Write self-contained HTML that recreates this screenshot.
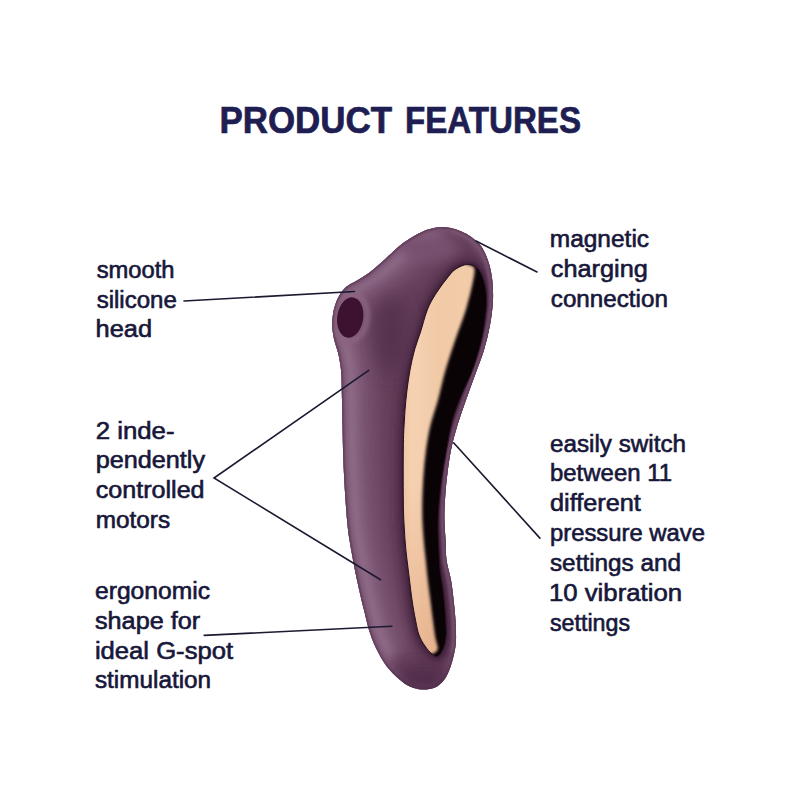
<!DOCTYPE html>
<html><head><meta charset="utf-8"><style>
html,body{margin:0;padding:0;background:#fff;}
svg{display:block;}
.t{font-family:"Liberation Sans",sans-serif;font-size:23px;fill:#17173a;stroke:#17173a;stroke-width:0.6px;}
.h{font-family:"Liberation Sans",sans-serif;font-size:36px;font-weight:bold;fill:#1e1e52;stroke:#1e1e52;stroke-width:0.7px;}
</style></head><body>
<svg width="800" height="800" viewBox="0 0 800 800">
<defs>
<clipPath id="bc"><path d="M440.5,227.0 C443.7,226.9 447.5,227.2 451.0,227.9 C454.5,228.6 458.2,229.9 461.5,231.4 C464.8,232.9 467.8,234.4 471.0,236.8 C474.2,239.2 478.2,242.1 481.0,246.0 C483.8,249.9 486.2,255.2 488.0,260.5 C489.8,265.8 491.2,271.4 492.0,278.0 C492.8,284.6 493.3,292.2 493.0,300.0 C492.7,307.8 491.5,316.7 490.0,325.0 C488.5,333.3 486.5,341.7 484.0,350.0 C481.5,358.3 478.0,366.7 475.0,375.0 C472.0,383.3 468.9,391.7 466.0,400.0 C463.1,408.3 460.0,416.7 457.5,425.0 C455.0,433.3 452.8,441.3 451.0,450.0 C449.2,458.7 448.0,468.7 447.0,477.0 C446.0,485.3 445.4,492.8 445.0,500.0 C444.6,507.2 444.3,513.3 444.4,520.0 C444.5,526.7 445.2,533.3 445.6,540.0 C446.0,546.7 445.6,553.3 446.5,560.0 C447.4,566.7 449.8,573.3 451.0,580.0 C452.2,586.7 452.9,593.3 453.6,600.0 C454.4,606.7 455.1,613.3 455.5,620.0 C455.9,626.7 456.2,634.7 456.0,640.0 C455.8,645.3 455.4,647.5 454.5,652.0 C453.6,656.5 452.2,662.3 450.5,667.0 C448.8,671.7 446.7,676.5 444.0,680.0 C441.3,683.5 438.2,686.2 434.5,687.8 C430.8,689.3 426.1,689.7 422.0,689.5 C417.9,689.3 413.8,688.2 410.0,686.5 C406.2,684.8 403.4,682.9 399.5,679.5 C395.6,676.1 390.3,671.2 386.4,666.0 C382.5,660.8 378.9,654.0 376.0,648.0 C373.1,642.0 370.8,635.7 369.0,630.0 C367.2,624.3 366.3,619.3 365.0,614.0 C363.7,608.7 362.3,603.7 361.0,598.0 C359.7,592.3 358.3,586.3 357.0,580.0 C355.7,573.7 354.2,566.7 353.0,560.0 C351.8,553.3 350.4,545.8 349.5,540.0 C348.6,534.2 348.2,531.7 347.5,525.0 C346.8,518.3 346.1,508.3 345.5,500.0 C344.9,491.7 344.4,483.3 344.0,475.0 C343.6,466.7 343.2,458.3 343.0,450.0 C342.8,441.7 342.7,433.3 342.5,425.0 C342.3,416.7 342.2,408.3 342.0,400.0 C341.8,391.7 341.7,381.0 341.4,375.0 C341.1,369.0 340.8,367.8 340.2,364.0 C339.7,360.2 339.0,356.3 338.0,352.5 C337.0,348.7 335.4,344.8 334.5,341.0 C333.6,337.2 332.9,333.3 332.5,330.0 C332.1,326.7 332.1,324.5 332.3,321.0 C332.6,317.5 333.0,313.0 334.0,309.0 C335.0,305.0 336.5,300.7 338.5,297.0 C340.5,293.3 342.9,289.8 346.0,287.0 C349.1,284.2 353.1,282.9 357.0,280.5 C360.9,278.1 365.2,275.8 369.5,272.5 C373.8,269.2 377.9,265.5 383.0,261.0 C388.1,256.5 395.1,249.5 400.0,245.5 C404.9,241.5 408.5,239.4 412.5,237.0 C416.5,234.6 420.8,232.4 424.0,231.0 C427.2,229.6 429.2,229.2 432.0,228.5 C434.8,227.8 437.3,227.1 440.5,227.0Z"/></clipPath>
<clipPath id="cc"><path d="M467.4,264.4 C471.1,264.2 474.9,266.0 477.5,268.4 C480.1,270.8 481.6,274.6 483.0,278.5 C484.4,282.4 485.5,286.8 486.0,292.0 C486.5,297.2 486.8,302.0 486.0,310.0 C485.2,318.0 483.8,330.0 481.5,340.0 C479.2,350.0 475.8,360.8 472.5,370.0 C469.2,379.2 464.8,386.7 461.5,395.0 C458.2,403.3 455.0,410.8 452.5,420.0 C450.0,429.2 448.3,440.0 446.5,450.0 C444.7,460.0 442.8,470.0 441.5,480.0 C440.2,490.0 439.1,501.7 438.5,510.0 C437.9,518.3 438.0,523.3 438.0,530.0 C438.0,536.7 438.4,543.3 438.8,550.0 C439.1,556.7 439.3,563.3 440.0,570.0 C440.7,576.7 442.2,583.3 443.0,590.0 C443.8,596.7 444.5,604.2 445.0,610.0 C445.5,615.8 445.8,620.5 446.0,625.0 C446.2,629.5 446.4,633.2 446.0,637.0 C445.6,640.8 444.8,644.8 443.5,648.0 C442.2,651.2 439.9,655.0 438.0,656.0 C436.1,657.0 434.2,655.7 432.0,654.0 C429.8,652.3 427.2,649.2 425.0,646.0 C422.8,642.8 420.6,639.3 419.0,635.0 C417.4,630.7 416.7,625.8 415.5,620.0 C414.3,614.2 413.0,606.7 412.0,600.0 C411.0,593.3 410.3,586.7 409.5,580.0 C408.7,573.3 407.8,566.7 407.0,560.0 C406.2,553.3 405.5,546.7 405.0,540.0 C404.5,533.3 404.1,526.7 403.8,520.0 C403.5,513.3 403.4,507.5 403.3,500.0 C403.2,492.5 403.2,483.3 403.2,475.0 C403.2,466.7 403.2,457.5 403.3,450.0 C403.4,442.5 403.5,436.7 403.8,430.0 C404.1,423.3 404.5,416.7 405.0,410.0 C405.5,403.3 406.2,396.7 407.0,390.0 C407.8,383.3 408.8,376.7 410.0,370.0 C411.2,363.3 412.8,356.3 414.5,350.0 C416.2,343.7 418.5,338.3 420.5,332.0 C422.5,325.7 424.6,317.3 426.5,312.0 C428.4,306.7 429.9,303.8 432.0,300.0 C434.1,296.2 436.6,292.5 439.0,289.0 C441.4,285.5 443.8,282.2 446.5,279.0 C449.2,275.8 451.5,271.9 455.0,269.5 C458.5,267.1 463.6,264.6 467.4,264.4Z"/></clipPath>
<filter id="b10" x="-50%" y="-50%" width="200%" height="200%"><feGaussianBlur stdDeviation="10"/></filter>
<filter id="b6" x="-50%" y="-50%" width="200%" height="200%"><feGaussianBlur stdDeviation="6"/></filter>
<filter id="b4" x="-50%" y="-50%" width="200%" height="200%"><feGaussianBlur stdDeviation="4"/></filter>
<filter id="b3" x="-50%" y="-50%" width="200%" height="200%"><feGaussianBlur stdDeviation="3"/></filter>
<filter id="b2" x="-50%" y="-50%" width="200%" height="200%"><feGaussianBlur stdDeviation="2"/></filter>
<filter id="b15" x="-50%" y="-50%" width="200%" height="200%"><feGaussianBlur stdDeviation="1.6"/></filter>
<filter id="b1" x="-50%" y="-50%" width="200%" height="200%"><feGaussianBlur stdDeviation="1.2"/></filter>
<linearGradient id="gold" x1="400" y1="0" x2="480" y2="0" gradientUnits="userSpaceOnUse">
<stop offset="0" stop-color="#eec3a0"/>
<stop offset="0.15" stop-color="#f5d2b2"/>
<stop offset="0.5" stop-color="#f1c9a6"/>
<stop offset="1" stop-color="#f3ccaa"/>
</linearGradient>
<linearGradient id="gshade" x1="0" y1="480" x2="0" y2="660" gradientUnits="userSpaceOnUse">
<stop offset="0" stop-color="#d9946a" stop-opacity="0"/>
<stop offset="1" stop-color="#d9946a" stop-opacity="0.45"/>
</linearGradient>
</defs>
<path d="M440.5,227.0 C443.7,226.9 447.5,227.2 451.0,227.9 C454.5,228.6 458.2,229.9 461.5,231.4 C464.8,232.9 467.8,234.4 471.0,236.8 C474.2,239.2 478.2,242.1 481.0,246.0 C483.8,249.9 486.2,255.2 488.0,260.5 C489.8,265.8 491.2,271.4 492.0,278.0 C492.8,284.6 493.3,292.2 493.0,300.0 C492.7,307.8 491.5,316.7 490.0,325.0 C488.5,333.3 486.5,341.7 484.0,350.0 C481.5,358.3 478.0,366.7 475.0,375.0 C472.0,383.3 468.9,391.7 466.0,400.0 C463.1,408.3 460.0,416.7 457.5,425.0 C455.0,433.3 452.8,441.3 451.0,450.0 C449.2,458.7 448.0,468.7 447.0,477.0 C446.0,485.3 445.4,492.8 445.0,500.0 C444.6,507.2 444.3,513.3 444.4,520.0 C444.5,526.7 445.2,533.3 445.6,540.0 C446.0,546.7 445.6,553.3 446.5,560.0 C447.4,566.7 449.8,573.3 451.0,580.0 C452.2,586.7 452.9,593.3 453.6,600.0 C454.4,606.7 455.1,613.3 455.5,620.0 C455.9,626.7 456.2,634.7 456.0,640.0 C455.8,645.3 455.4,647.5 454.5,652.0 C453.6,656.5 452.2,662.3 450.5,667.0 C448.8,671.7 446.7,676.5 444.0,680.0 C441.3,683.5 438.2,686.2 434.5,687.8 C430.8,689.3 426.1,689.7 422.0,689.5 C417.9,689.3 413.8,688.2 410.0,686.5 C406.2,684.8 403.4,682.9 399.5,679.5 C395.6,676.1 390.3,671.2 386.4,666.0 C382.5,660.8 378.9,654.0 376.0,648.0 C373.1,642.0 370.8,635.7 369.0,630.0 C367.2,624.3 366.3,619.3 365.0,614.0 C363.7,608.7 362.3,603.7 361.0,598.0 C359.7,592.3 358.3,586.3 357.0,580.0 C355.7,573.7 354.2,566.7 353.0,560.0 C351.8,553.3 350.4,545.8 349.5,540.0 C348.6,534.2 348.2,531.7 347.5,525.0 C346.8,518.3 346.1,508.3 345.5,500.0 C344.9,491.7 344.4,483.3 344.0,475.0 C343.6,466.7 343.2,458.3 343.0,450.0 C342.8,441.7 342.7,433.3 342.5,425.0 C342.3,416.7 342.2,408.3 342.0,400.0 C341.8,391.7 341.7,381.0 341.4,375.0 C341.1,369.0 340.8,367.8 340.2,364.0 C339.7,360.2 339.0,356.3 338.0,352.5 C337.0,348.7 335.4,344.8 334.5,341.0 C333.6,337.2 332.9,333.3 332.5,330.0 C332.1,326.7 332.1,324.5 332.3,321.0 C332.6,317.5 333.0,313.0 334.0,309.0 C335.0,305.0 336.5,300.7 338.5,297.0 C340.5,293.3 342.9,289.8 346.0,287.0 C349.1,284.2 353.1,282.9 357.0,280.5 C360.9,278.1 365.2,275.8 369.5,272.5 C373.8,269.2 377.9,265.5 383.0,261.0 C388.1,256.5 395.1,249.5 400.0,245.5 C404.9,241.5 408.5,239.4 412.5,237.0 C416.5,234.6 420.8,232.4 424.0,231.0 C427.2,229.6 429.2,229.2 432.0,228.5 C434.8,227.8 437.3,227.1 440.5,227.0Z" fill="#633d58"/>
<g clip-path="url(#bc)">
<path d="M432.0,228.5 C428.8,229.9 417.8,234.2 412.5,237.0 C407.2,239.8 404.9,241.5 400.0,245.5 C395.1,249.5 388.1,256.5 383.0,261.0 C377.9,265.5 373.8,269.2 369.5,272.5 C365.2,275.8 360.9,278.1 357.0,280.5 C353.1,282.9 349.1,284.2 346.0,287.0 C342.9,289.8 340.5,293.3 338.5,297.0 C336.5,300.7 335.0,305.0 334.0,309.0 C333.0,313.0 332.6,317.5 332.3,321.0 C332.1,324.5 332.1,326.7 332.5,330.0 C332.9,333.3 333.6,337.2 334.5,341.0 C335.4,344.8 337.0,348.7 338.0,352.5 C339.0,356.3 339.7,360.2 340.2,364.0 C340.8,367.8 341.1,369.0 341.4,375.0 C341.7,381.0 341.8,391.7 342.0,400.0 C342.2,408.3 342.3,416.7 342.5,425.0 C342.7,433.3 342.8,441.7 343.0,450.0 C343.2,458.3 343.6,466.7 344.0,475.0 C344.4,483.3 344.9,491.7 345.5,500.0 C346.1,508.3 346.8,518.3 347.5,525.0 C348.2,531.7 348.6,534.2 349.5,540.0 C350.4,545.8 351.8,553.3 353.0,560.0 C354.2,566.7 355.7,573.7 357.0,580.0 C358.3,586.3 359.7,592.3 361.0,598.0 C362.3,603.7 363.7,608.7 365.0,614.0 C366.3,619.3 367.2,624.3 369.0,630.0 C370.8,635.7 373.7,643.0 376.0,648.0 C378.3,653.0 381.8,658.0 383.0,660.0" fill="none" stroke="#7a5472" stroke-width="46" filter="url(#b10)" transform="translate(10,0)"/>
<path d="M432.0,228.5 C428.8,229.9 417.8,234.2 412.5,237.0 C407.2,239.8 404.9,241.5 400.0,245.5 C395.1,249.5 388.1,256.5 383.0,261.0 C377.9,265.5 373.8,269.2 369.5,272.5 C365.2,275.8 360.9,278.1 357.0,280.5 C353.1,282.9 349.1,284.2 346.0,287.0 C342.9,289.8 340.5,293.3 338.5,297.0 C336.5,300.7 335.0,305.0 334.0,309.0 C333.0,313.0 332.6,317.5 332.3,321.0 C332.1,324.5 332.1,326.7 332.5,330.0 C332.9,333.3 333.6,337.2 334.5,341.0 C335.4,344.8 337.0,348.7 338.0,352.5 C339.0,356.3 339.7,360.2 340.2,364.0 C340.8,367.8 341.1,369.0 341.4,375.0 C341.7,381.0 341.8,391.7 342.0,400.0 C342.2,408.3 342.3,416.7 342.5,425.0 C342.7,433.3 342.8,441.7 343.0,450.0 C343.2,458.3 343.6,466.7 344.0,475.0 C344.4,483.3 344.9,491.7 345.5,500.0 C346.1,508.3 346.8,518.3 347.5,525.0 C348.2,531.7 348.6,534.2 349.5,540.0 C350.4,545.8 351.8,553.3 353.0,560.0 C354.2,566.7 355.7,573.7 357.0,580.0 C358.3,586.3 359.7,592.3 361.0,598.0 C362.3,603.7 363.7,608.7 365.0,614.0 C366.3,619.3 367.2,624.3 369.0,630.0 C370.8,635.7 373.7,643.0 376.0,648.0 C378.3,653.0 381.8,658.0 383.0,660.0" fill="none" stroke="#93708c" stroke-width="20" filter="url(#b6)" transform="translate(4,0)"/>
<path d="M440.5,227.0 C443.7,226.9 447.5,227.2 451.0,227.9 C454.5,228.6 458.2,229.9 461.5,231.4 C464.8,232.9 467.8,234.4 471.0,236.8 C474.2,239.2 478.2,242.1 481.0,246.0 C483.8,249.9 486.2,255.2 488.0,260.5 C489.8,265.8 491.2,271.4 492.0,278.0 C492.8,284.6 493.3,292.2 493.0,300.0 C492.7,307.8 491.5,316.7 490.0,325.0 C488.5,333.3 486.5,341.7 484.0,350.0 C481.5,358.3 478.0,366.7 475.0,375.0 C472.0,383.3 468.9,391.7 466.0,400.0 C463.1,408.3 460.0,416.7 457.5,425.0 C455.0,433.3 452.8,441.3 451.0,450.0 C449.2,458.7 448.0,468.7 447.0,477.0 C446.0,485.3 445.4,492.8 445.0,500.0 C444.6,507.2 444.3,513.3 444.4,520.0 C444.5,526.7 445.2,533.3 445.6,540.0 C446.0,546.7 445.6,553.3 446.5,560.0 C447.4,566.7 449.8,573.3 451.0,580.0 C452.2,586.7 452.9,593.3 453.6,600.0 C454.4,606.7 455.1,613.3 455.5,620.0 C455.9,626.7 456.2,634.7 456.0,640.0 C455.8,645.3 455.4,647.5 454.5,652.0 C453.6,656.5 452.2,662.3 450.5,667.0 C448.8,671.7 446.7,676.5 444.0,680.0 C441.3,683.5 438.2,686.2 434.5,687.8 C430.8,689.3 426.1,689.7 422.0,689.5 C417.9,689.3 413.8,688.2 410.0,686.5 C406.2,684.8 403.4,682.9 399.5,679.5 C395.6,676.1 390.3,671.2 386.4,666.0 C382.5,660.8 378.9,654.0 376.0,648.0 C373.1,642.0 370.8,635.7 369.0,630.0 C367.2,624.3 366.3,619.3 365.0,614.0 C363.7,608.7 362.3,603.7 361.0,598.0 C359.7,592.3 358.3,586.3 357.0,580.0 C355.7,573.7 354.2,566.7 353.0,560.0 C351.8,553.3 350.4,545.8 349.5,540.0 C348.6,534.2 348.2,531.7 347.5,525.0 C346.8,518.3 346.1,508.3 345.5,500.0 C344.9,491.7 344.4,483.3 344.0,475.0 C343.6,466.7 343.2,458.3 343.0,450.0 C342.8,441.7 342.7,433.3 342.5,425.0 C342.3,416.7 342.2,408.3 342.0,400.0 C341.8,391.7 341.7,381.0 341.4,375.0 C341.1,369.0 340.8,367.8 340.2,364.0 C339.7,360.2 339.0,356.3 338.0,352.5 C337.0,348.7 335.4,344.8 334.5,341.0 C333.6,337.2 332.9,333.3 332.5,330.0 C332.1,326.7 332.1,324.5 332.3,321.0 C332.6,317.5 333.0,313.0 334.0,309.0 C335.0,305.0 336.5,300.7 338.5,297.0 C340.5,293.3 342.9,289.8 346.0,287.0 C349.1,284.2 353.1,282.9 357.0,280.5 C360.9,278.1 365.2,275.8 369.5,272.5 C373.8,269.2 377.9,265.5 383.0,261.0 C388.1,256.5 395.1,249.5 400.0,245.5 C404.9,241.5 408.5,239.4 412.5,237.0 C416.5,234.6 420.8,232.4 424.0,231.0 C427.2,229.6 429.2,229.2 432.0,228.5 C434.8,227.8 437.3,227.1 440.5,227.0Z" fill="none" stroke="#77526f" stroke-width="10" filter="url(#b3)"/>
<path d="M467.4,264.4 C471.1,264.2 474.9,266.0 477.5,268.4 C480.1,270.8 481.6,274.6 483.0,278.5 C484.4,282.4 485.5,286.8 486.0,292.0 C486.5,297.2 486.8,302.0 486.0,310.0 C485.2,318.0 483.8,330.0 481.5,340.0 C479.2,350.0 475.8,360.8 472.5,370.0 C469.2,379.2 464.8,386.7 461.5,395.0 C458.2,403.3 455.0,410.8 452.5,420.0 C450.0,429.2 448.3,440.0 446.5,450.0 C444.7,460.0 442.8,470.0 441.5,480.0 C440.2,490.0 439.1,501.7 438.5,510.0 C437.9,518.3 438.0,523.3 438.0,530.0 C438.0,536.7 438.4,543.3 438.8,550.0 C439.1,556.7 439.3,563.3 440.0,570.0 C440.7,576.7 442.2,583.3 443.0,590.0 C443.8,596.7 444.5,604.2 445.0,610.0 C445.5,615.8 445.8,620.5 446.0,625.0 C446.2,629.5 446.4,633.2 446.0,637.0 C445.6,640.8 444.8,644.8 443.5,648.0 C442.2,651.2 439.9,655.0 438.0,656.0 C436.1,657.0 434.2,655.7 432.0,654.0 C429.8,652.3 427.2,649.2 425.0,646.0 C422.8,642.8 420.6,639.3 419.0,635.0 C417.4,630.7 416.7,625.8 415.5,620.0 C414.3,614.2 413.0,606.7 412.0,600.0 C411.0,593.3 410.3,586.7 409.5,580.0 C408.7,573.3 407.8,566.7 407.0,560.0 C406.2,553.3 405.5,546.7 405.0,540.0 C404.5,533.3 404.1,526.7 403.8,520.0 C403.5,513.3 403.4,507.5 403.3,500.0 C403.2,492.5 403.2,483.3 403.2,475.0 C403.2,466.7 403.2,457.5 403.3,450.0 C403.4,442.5 403.5,436.7 403.8,430.0 C404.1,423.3 404.5,416.7 405.0,410.0 C405.5,403.3 406.2,396.7 407.0,390.0 C407.8,383.3 408.8,376.7 410.0,370.0 C411.2,363.3 412.8,356.3 414.5,350.0 C416.2,343.7 418.5,338.3 420.5,332.0 C422.5,325.7 424.6,317.3 426.5,312.0 C428.4,306.7 429.9,303.8 432.0,300.0 C434.1,296.2 436.6,292.5 439.0,289.0 C441.4,285.5 443.8,282.2 446.5,279.0 C449.2,275.8 451.5,271.9 455.0,269.5 C458.5,267.1 463.6,264.6 467.4,264.4Z" fill="none" stroke="#482643" stroke-width="12" filter="url(#b4)"/>
<ellipse cx="392" cy="335" rx="16" ry="40" fill="#54304d" filter="url(#b10)"/>
<ellipse cx="425" cy="680" rx="30" ry="14" fill="#4f2a49" filter="url(#b10)"/>
<ellipse cx="428" cy="248" rx="30" ry="12" fill="#77506f" filter="url(#b6)"/>
<ellipse cx="350" cy="317.5" rx="17" ry="24.5" fill="none" stroke="#8a6480" stroke-width="5" filter="url(#b2)" transform="rotate(8 350 317.5)"/>
<path d="M467.4,264.4 C471.1,264.2 474.9,266.0 477.5,268.4 C480.1,270.8 481.6,274.6 483.0,278.5 C484.4,282.4 485.5,286.8 486.0,292.0 C486.5,297.2 486.8,302.0 486.0,310.0 C485.2,318.0 483.8,330.0 481.5,340.0 C479.2,350.0 475.8,360.8 472.5,370.0 C469.2,379.2 464.8,386.7 461.5,395.0 C458.2,403.3 455.0,410.8 452.5,420.0 C450.0,429.2 448.3,440.0 446.5,450.0 C444.7,460.0 442.8,470.0 441.5,480.0 C440.2,490.0 439.1,501.7 438.5,510.0 C437.9,518.3 438.0,523.3 438.0,530.0 C438.0,536.7 438.4,543.3 438.8,550.0 C439.1,556.7 439.3,563.3 440.0,570.0 C440.7,576.7 442.2,583.3 443.0,590.0 C443.8,596.7 444.5,604.2 445.0,610.0 C445.5,615.8 445.8,620.5 446.0,625.0 C446.2,629.5 446.4,633.2 446.0,637.0 C445.6,640.8 444.8,644.8 443.5,648.0 C442.2,651.2 439.9,655.0 438.0,656.0 C436.1,657.0 434.2,655.7 432.0,654.0 C429.8,652.3 427.2,649.2 425.0,646.0 C422.8,642.8 420.6,639.3 419.0,635.0 C417.4,630.7 416.7,625.8 415.5,620.0 C414.3,614.2 413.0,606.7 412.0,600.0 C411.0,593.3 410.3,586.7 409.5,580.0 C408.7,573.3 407.8,566.7 407.0,560.0 C406.2,553.3 405.5,546.7 405.0,540.0 C404.5,533.3 404.1,526.7 403.8,520.0 C403.5,513.3 403.4,507.5 403.3,500.0 C403.2,492.5 403.2,483.3 403.2,475.0 C403.2,466.7 403.2,457.5 403.3,450.0 C403.4,442.5 403.5,436.7 403.8,430.0 C404.1,423.3 404.5,416.7 405.0,410.0 C405.5,403.3 406.2,396.7 407.0,390.0 C407.8,383.3 408.8,376.7 410.0,370.0 C411.2,363.3 412.8,356.3 414.5,350.0 C416.2,343.7 418.5,338.3 420.5,332.0 C422.5,325.7 424.6,317.3 426.5,312.0 C428.4,306.7 429.9,303.8 432.0,300.0 C434.1,296.2 436.6,292.5 439.0,289.0 C441.4,285.5 443.8,282.2 446.5,279.0 C449.2,275.8 451.5,271.9 455.0,269.5 C458.5,267.1 463.6,264.6 467.4,264.4Z" fill="none" stroke="#3e2038" stroke-width="4" filter="url(#b1)"/>
<path d="M451.0,227.9 C452.8,228.5 458.2,229.9 461.5,231.4 C464.8,232.9 467.8,234.4 471.0,236.8 C474.2,239.2 478.2,242.1 481.0,246.0 C483.8,249.9 486.2,255.2 488.0,260.5 C489.8,265.8 491.2,271.4 492.0,278.0 C492.8,284.6 493.3,292.2 493.0,300.0 C492.7,307.8 491.5,316.7 490.0,325.0 C488.5,333.3 486.5,341.7 484.0,350.0 C481.5,358.3 478.0,366.7 475.0,375.0 C472.0,383.3 468.9,391.7 466.0,400.0 C463.1,408.3 460.0,416.7 457.5,425.0 C455.0,433.3 452.8,441.3 451.0,450.0 C449.2,458.7 448.0,468.7 447.0,477.0 C446.0,485.3 445.4,492.8 445.0,500.0 C444.6,507.2 444.3,513.3 444.4,520.0 C444.5,526.7 445.2,533.3 445.6,540.0 C446.0,546.7 445.6,553.3 446.5,560.0 C447.4,566.7 449.8,573.3 451.0,580.0 C452.2,586.7 452.9,593.3 453.6,600.0 C454.4,606.7 455.1,613.3 455.5,620.0 C455.9,626.7 456.2,634.7 456.0,640.0 C455.8,645.3 454.8,650.0 454.5,652.0" fill="none" stroke="#7a5673" stroke-width="7" filter="url(#b15)"/>
<path d="M440.5,227.0 C443.7,226.9 447.5,227.2 451.0,227.9 C454.5,228.6 458.2,229.9 461.5,231.4 C464.8,232.9 467.8,234.4 471.0,236.8 C474.2,239.2 478.2,242.1 481.0,246.0 C483.8,249.9 486.2,255.2 488.0,260.5 C489.8,265.8 491.2,271.4 492.0,278.0 C492.8,284.6 493.3,292.2 493.0,300.0 C492.7,307.8 491.5,316.7 490.0,325.0 C488.5,333.3 486.5,341.7 484.0,350.0 C481.5,358.3 478.0,366.7 475.0,375.0 C472.0,383.3 468.9,391.7 466.0,400.0 C463.1,408.3 460.0,416.7 457.5,425.0 C455.0,433.3 452.8,441.3 451.0,450.0 C449.2,458.7 448.0,468.7 447.0,477.0 C446.0,485.3 445.4,492.8 445.0,500.0 C444.6,507.2 444.3,513.3 444.4,520.0 C444.5,526.7 445.2,533.3 445.6,540.0 C446.0,546.7 445.6,553.3 446.5,560.0 C447.4,566.7 449.8,573.3 451.0,580.0 C452.2,586.7 452.9,593.3 453.6,600.0 C454.4,606.7 455.1,613.3 455.5,620.0 C455.9,626.7 456.2,634.7 456.0,640.0 C455.8,645.3 455.4,647.5 454.5,652.0 C453.6,656.5 452.2,662.3 450.5,667.0 C448.8,671.7 446.7,676.5 444.0,680.0 C441.3,683.5 438.2,686.2 434.5,687.8 C430.8,689.3 426.1,689.7 422.0,689.5 C417.9,689.3 413.8,688.2 410.0,686.5 C406.2,684.8 403.4,682.9 399.5,679.5 C395.6,676.1 390.3,671.2 386.4,666.0 C382.5,660.8 378.9,654.0 376.0,648.0 C373.1,642.0 370.8,635.7 369.0,630.0 C367.2,624.3 366.3,619.3 365.0,614.0 C363.7,608.7 362.3,603.7 361.0,598.0 C359.7,592.3 358.3,586.3 357.0,580.0 C355.7,573.7 354.2,566.7 353.0,560.0 C351.8,553.3 350.4,545.8 349.5,540.0 C348.6,534.2 348.2,531.7 347.5,525.0 C346.8,518.3 346.1,508.3 345.5,500.0 C344.9,491.7 344.4,483.3 344.0,475.0 C343.6,466.7 343.2,458.3 343.0,450.0 C342.8,441.7 342.7,433.3 342.5,425.0 C342.3,416.7 342.2,408.3 342.0,400.0 C341.8,391.7 341.7,381.0 341.4,375.0 C341.1,369.0 340.8,367.8 340.2,364.0 C339.7,360.2 339.0,356.3 338.0,352.5 C337.0,348.7 335.4,344.8 334.5,341.0 C333.6,337.2 332.9,333.3 332.5,330.0 C332.1,326.7 332.1,324.5 332.3,321.0 C332.6,317.5 333.0,313.0 334.0,309.0 C335.0,305.0 336.5,300.7 338.5,297.0 C340.5,293.3 342.9,289.8 346.0,287.0 C349.1,284.2 353.1,282.9 357.0,280.5 C360.9,278.1 365.2,275.8 369.5,272.5 C373.8,269.2 377.9,265.5 383.0,261.0 C388.1,256.5 395.1,249.5 400.0,245.5 C404.9,241.5 408.5,239.4 412.5,237.0 C416.5,234.6 420.8,232.4 424.0,231.0 C427.2,229.6 429.2,229.2 432.0,228.5 C434.8,227.8 437.3,227.1 440.5,227.0Z" fill="none" stroke="#4a2845" stroke-width="1.6" filter="url(#b1)"/>
</g>
<ellipse cx="350.2" cy="317.5" rx="13" ry="20.3" fill="#3d1231" transform="rotate(8 350.2 317.5)"/>
<path d="M467.4,264.4 C471.1,264.2 474.9,266.0 477.5,268.4 C480.1,270.8 481.6,274.6 483.0,278.5 C484.4,282.4 485.5,286.8 486.0,292.0 C486.5,297.2 486.8,302.0 486.0,310.0 C485.2,318.0 483.8,330.0 481.5,340.0 C479.2,350.0 475.8,360.8 472.5,370.0 C469.2,379.2 464.8,386.7 461.5,395.0 C458.2,403.3 455.0,410.8 452.5,420.0 C450.0,429.2 448.3,440.0 446.5,450.0 C444.7,460.0 442.8,470.0 441.5,480.0 C440.2,490.0 439.1,501.7 438.5,510.0 C437.9,518.3 438.0,523.3 438.0,530.0 C438.0,536.7 438.4,543.3 438.8,550.0 C439.1,556.7 439.3,563.3 440.0,570.0 C440.7,576.7 442.2,583.3 443.0,590.0 C443.8,596.7 444.5,604.2 445.0,610.0 C445.5,615.8 445.8,620.5 446.0,625.0 C446.2,629.5 446.4,633.2 446.0,637.0 C445.6,640.8 444.8,644.8 443.5,648.0 C442.2,651.2 439.9,655.0 438.0,656.0 C436.1,657.0 434.2,655.7 432.0,654.0 C429.8,652.3 427.2,649.2 425.0,646.0 C422.8,642.8 420.6,639.3 419.0,635.0 C417.4,630.7 416.7,625.8 415.5,620.0 C414.3,614.2 413.0,606.7 412.0,600.0 C411.0,593.3 410.3,586.7 409.5,580.0 C408.7,573.3 407.8,566.7 407.0,560.0 C406.2,553.3 405.5,546.7 405.0,540.0 C404.5,533.3 404.1,526.7 403.8,520.0 C403.5,513.3 403.4,507.5 403.3,500.0 C403.2,492.5 403.2,483.3 403.2,475.0 C403.2,466.7 403.2,457.5 403.3,450.0 C403.4,442.5 403.5,436.7 403.8,430.0 C404.1,423.3 404.5,416.7 405.0,410.0 C405.5,403.3 406.2,396.7 407.0,390.0 C407.8,383.3 408.8,376.7 410.0,370.0 C411.2,363.3 412.8,356.3 414.5,350.0 C416.2,343.7 418.5,338.3 420.5,332.0 C422.5,325.7 424.6,317.3 426.5,312.0 C428.4,306.7 429.9,303.8 432.0,300.0 C434.1,296.2 436.6,292.5 439.0,289.0 C441.4,285.5 443.8,282.2 446.5,279.0 C449.2,275.8 451.5,271.9 455.0,269.5 C458.5,267.1 463.6,264.6 467.4,264.4Z" fill="#0a0306"/>
<g clip-path="url(#cc)">
<path d="M467.4,264.4 C469.4,265.3 473.0,264.9 474.0,267.5 C475.0,270.1 474.6,272.9 473.2,280.0 C471.9,287.1 468.8,300.0 465.8,310.0 C462.8,320.0 458.6,330.0 455.2,340.0 C451.9,350.0 448.4,360.0 445.5,370.0 C442.6,380.0 440.5,390.8 438.0,400.0 C435.5,409.2 432.5,416.7 430.5,425.0 C428.5,433.3 427.2,441.7 426.0,450.0 C424.8,458.3 424.1,466.7 423.5,475.0 C422.9,483.3 422.5,492.5 422.3,500.0 C422.1,507.5 422.1,513.3 422.3,520.0 C422.5,526.7 423.0,533.3 423.5,540.0 C424.0,546.7 424.8,553.3 425.5,560.0 C426.2,566.7 426.8,573.3 427.5,580.0 C428.2,586.7 429.2,593.3 430.0,600.0 C430.8,606.7 431.7,613.7 432.5,620.0 C433.3,626.3 434.2,633.0 435.0,638.0 C435.8,643.0 438.3,647.3 437.0,650.0 C435.7,652.7 429.8,654.7 427.0,654.0 C424.2,653.3 422.2,649.2 420.0,646.0 C417.8,642.8 415.6,639.3 414.0,635.0 C412.4,630.7 411.7,625.8 410.5,620.0 C409.3,614.2 408.0,606.7 407.0,600.0 C406.0,593.3 405.3,586.7 404.5,580.0 C403.7,573.3 402.8,566.7 402.0,560.0 C401.2,553.3 400.5,546.7 400.0,540.0 C399.5,533.3 399.1,526.7 398.8,520.0 C398.5,513.3 398.4,507.5 398.3,500.0 C398.2,492.5 398.2,483.3 398.2,475.0 C398.2,466.7 398.2,457.5 398.3,450.0 C398.4,442.5 398.5,436.7 398.8,430.0 C399.1,423.3 399.5,416.7 400.0,410.0 C400.5,403.3 401.2,396.7 402.0,390.0 C402.8,383.3 403.8,376.7 405.0,370.0 C406.2,363.3 407.8,356.3 409.5,350.0 C411.2,343.7 413.5,338.3 415.5,332.0 C417.5,325.7 419.6,317.3 421.5,312.0 C423.4,306.7 424.9,303.8 427.0,300.0 C429.1,296.2 431.6,292.5 434.0,289.0 C436.4,285.5 436.8,283.5 441.5,279.0 C446.2,274.5 457.7,264.4 462.0,262.0 C466.3,259.6 465.4,263.5 467.4,264.4Z" fill="url(#gold)" filter="url(#b15)"/>
<path d="M467.4,264.4 C469.4,265.3 473.0,264.9 474.0,267.5 C475.0,270.1 474.6,272.9 473.2,280.0 C471.9,287.1 468.8,300.0 465.8,310.0 C462.8,320.0 458.6,330.0 455.2,340.0 C451.9,350.0 448.4,360.0 445.5,370.0 C442.6,380.0 440.5,390.8 438.0,400.0 C435.5,409.2 432.5,416.7 430.5,425.0 C428.5,433.3 427.2,441.7 426.0,450.0 C424.8,458.3 424.1,466.7 423.5,475.0 C422.9,483.3 422.5,492.5 422.3,500.0 C422.1,507.5 422.1,513.3 422.3,520.0 C422.5,526.7 423.0,533.3 423.5,540.0 C424.0,546.7 424.8,553.3 425.5,560.0 C426.2,566.7 426.8,573.3 427.5,580.0 C428.2,586.7 429.2,593.3 430.0,600.0 C430.8,606.7 431.7,613.7 432.5,620.0 C433.3,626.3 434.2,633.0 435.0,638.0 C435.8,643.0 438.3,647.3 437.0,650.0 C435.7,652.7 429.8,654.7 427.0,654.0 C424.2,653.3 422.2,649.2 420.0,646.0 C417.8,642.8 415.6,639.3 414.0,635.0 C412.4,630.7 411.7,625.8 410.5,620.0 C409.3,614.2 408.0,606.7 407.0,600.0 C406.0,593.3 405.3,586.7 404.5,580.0 C403.7,573.3 402.8,566.7 402.0,560.0 C401.2,553.3 400.5,546.7 400.0,540.0 C399.5,533.3 399.1,526.7 398.8,520.0 C398.5,513.3 398.4,507.5 398.3,500.0 C398.2,492.5 398.2,483.3 398.2,475.0 C398.2,466.7 398.2,457.5 398.3,450.0 C398.4,442.5 398.5,436.7 398.8,430.0 C399.1,423.3 399.5,416.7 400.0,410.0 C400.5,403.3 401.2,396.7 402.0,390.0 C402.8,383.3 403.8,376.7 405.0,370.0 C406.2,363.3 407.8,356.3 409.5,350.0 C411.2,343.7 413.5,338.3 415.5,332.0 C417.5,325.7 419.6,317.3 421.5,312.0 C423.4,306.7 424.9,303.8 427.0,300.0 C429.1,296.2 431.6,292.5 434.0,289.0 C436.4,285.5 436.8,283.5 441.5,279.0 C446.2,274.5 457.7,264.4 462.0,262.0 C466.3,259.6 465.4,263.5 467.4,264.4Z" fill="url(#gshade)" filter="url(#b15)"/>
</g>
<path d="M467.4,264.4 C471.1,264.2 474.9,266.0 477.5,268.4 C480.1,270.8 481.6,274.6 483.0,278.5 C484.4,282.4 485.5,286.8 486.0,292.0 C486.5,297.2 486.8,302.0 486.0,310.0 C485.2,318.0 483.8,330.0 481.5,340.0 C479.2,350.0 475.8,360.8 472.5,370.0 C469.2,379.2 464.8,386.7 461.5,395.0 C458.2,403.3 455.0,410.8 452.5,420.0 C450.0,429.2 448.3,440.0 446.5,450.0 C444.7,460.0 442.8,470.0 441.5,480.0 C440.2,490.0 439.1,501.7 438.5,510.0 C437.9,518.3 438.0,523.3 438.0,530.0 C438.0,536.7 438.4,543.3 438.8,550.0 C439.1,556.7 439.3,563.3 440.0,570.0 C440.7,576.7 442.2,583.3 443.0,590.0 C443.8,596.7 444.5,604.2 445.0,610.0 C445.5,615.8 445.8,620.5 446.0,625.0 C446.2,629.5 446.4,633.2 446.0,637.0 C445.6,640.8 444.8,644.8 443.5,648.0 C442.2,651.2 439.9,655.0 438.0,656.0 C436.1,657.0 434.2,655.7 432.0,654.0 C429.8,652.3 427.2,649.2 425.0,646.0 C422.8,642.8 420.6,639.3 419.0,635.0 C417.4,630.7 416.7,625.8 415.5,620.0 C414.3,614.2 413.0,606.7 412.0,600.0 C411.0,593.3 410.3,586.7 409.5,580.0 C408.7,573.3 407.8,566.7 407.0,560.0 C406.2,553.3 405.5,546.7 405.0,540.0 C404.5,533.3 404.1,526.7 403.8,520.0 C403.5,513.3 403.4,507.5 403.3,500.0 C403.2,492.5 403.2,483.3 403.2,475.0 C403.2,466.7 403.2,457.5 403.3,450.0 C403.4,442.5 403.5,436.7 403.8,430.0 C404.1,423.3 404.5,416.7 405.0,410.0 C405.5,403.3 406.2,396.7 407.0,390.0 C407.8,383.3 408.8,376.7 410.0,370.0 C411.2,363.3 412.8,356.3 414.5,350.0 C416.2,343.7 418.5,338.3 420.5,332.0 C422.5,325.7 424.6,317.3 426.5,312.0 C428.4,306.7 429.9,303.8 432.0,300.0 C434.1,296.2 436.6,292.5 439.0,289.0 C441.4,285.5 443.8,282.2 446.5,279.0 C449.2,275.8 451.5,271.9 455.0,269.5 C458.5,267.1 463.6,264.6 467.4,264.4Z" fill="none" stroke="#2a0f24" stroke-width="1"/>
<g stroke="#1a1a30" stroke-width="1.6" fill="none" stroke-linecap="round">
<line x1="184" y1="301" x2="354.5" y2="291.5"/>
<line x1="476" y1="241" x2="537" y2="272"/>
<polyline points="368.75,370.3 214,478 380.6,579.7"/>
<line x1="204.2" y1="635.4" x2="391.9" y2="626.2"/>
<line x1="453.6" y1="442.75" x2="539.9" y2="538.1"/>
</g>
<text class="t" x="96.65" y="277.5" textLength="77.94" lengthAdjust="spacingAndGlyphs">smooth</text>
<text class="t" x="96.65" y="307.5" textLength="80.22" lengthAdjust="spacingAndGlyphs">silicone</text>
<text class="t" x="95.62" y="337" textLength="56.52" lengthAdjust="spacingAndGlyphs">head</text>
<text class="t" x="95.68" y="438.5" textLength="78.90" lengthAdjust="spacingAndGlyphs">2 inde-</text>
<text class="t" x="95.70" y="468" textLength="109.38" lengthAdjust="spacingAndGlyphs">pendently</text>
<text class="t" x="95.70" y="498" textLength="108.90" lengthAdjust="spacingAndGlyphs">controlled</text>
<text class="t" x="95.72" y="527.5" textLength="74.40" lengthAdjust="spacingAndGlyphs">motors</text>
<text class="t" x="94.98" y="598.6" textLength="115.06" lengthAdjust="spacingAndGlyphs">ergonomic</text>
<text class="t" x="94.96" y="628.6" textLength="105.22" lengthAdjust="spacingAndGlyphs">shape for</text>
<text class="t" x="94.93" y="658.6" textLength="138.15" lengthAdjust="spacingAndGlyphs">ideal G-spot</text>
<text class="t" x="94.97" y="688" textLength="116.08" lengthAdjust="spacingAndGlyphs">stimulation</text>
<text class="t" x="549.74" y="247" textLength="99.35" lengthAdjust="spacingAndGlyphs">magnetic</text>
<text class="t" x="550.77" y="277" textLength="97.12" lengthAdjust="spacingAndGlyphs">charging</text>
<text class="t" x="550.79" y="306.6" textLength="117.06" lengthAdjust="spacingAndGlyphs">connection</text>
<text class="t" x="549.98" y="451.6" textLength="136.09" lengthAdjust="spacingAndGlyphs">easily switch</text>
<text class="t" x="549.97" y="481.3" textLength="122.09" lengthAdjust="spacingAndGlyphs">between 11</text>
<text class="t" x="549.97" y="511" textLength="90.84" lengthAdjust="spacingAndGlyphs">different</text>
<text class="t" x="549.98" y="541" textLength="155.08" lengthAdjust="spacingAndGlyphs">pressure wave</text>
<text class="t" x="549.98" y="570.7" textLength="131.09" lengthAdjust="spacingAndGlyphs">settings and</text>
<text class="t" x="548.94" y="601" textLength="133.13" lengthAdjust="spacingAndGlyphs">10 vibration</text>
<text class="t" x="549.97" y="630.8" textLength="80.10" lengthAdjust="spacingAndGlyphs">settings</text>
<text class="h" x="219.47" y="133" textLength="172.54" lengthAdjust="spacingAndGlyphs">PRODUCT</text>
<text class="h" x="404.95" y="133" textLength="176.09" lengthAdjust="spacingAndGlyphs">FEATURES</text>
</svg>
</body></html>
